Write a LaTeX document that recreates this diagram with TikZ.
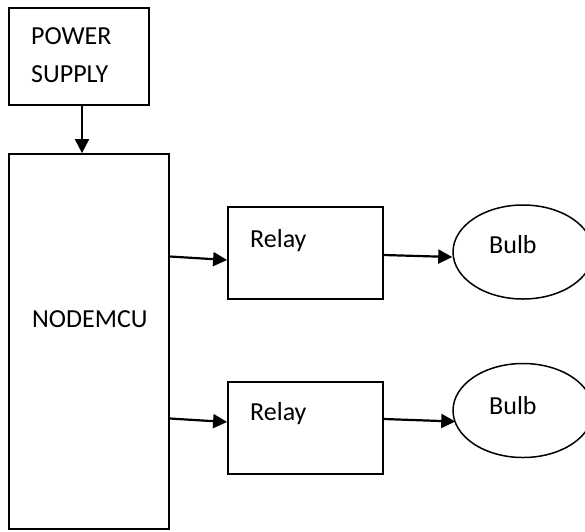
\documentclass[tikz,border=0pt]{standalone}
\usepackage{fontspec}
\setmainfont{Carlito}
\usetikzlibrary{arrows.meta,shapes.geometric}
\begin{document}
\begin{tikzpicture}[x=1pt,y=-1pt,
  blk/.style={draw,line width=1.8pt,inner sep=0pt},
  bulbshape/.style={draw,ellipse,line width=1.5pt,inner sep=0pt,minimum width=140pt,minimum height=94pt},
  lbl/.style={anchor=base west,inner sep=0pt,font=\fontsize{26}{31}\selectfont},
  conn/.style={line width=2.2pt,-{Triangle[length=14pt,width=14pt]}}]
\useasboundingbox (0,0) rectangle (585,531);
\node[blk,minimum width=140pt,minimum height=97pt] (power) at (79,56.5) {};
\node[blk,minimum width=160pt,minimum height=375pt] (nodemcu) at (89,341.5) {};
\node[blk,minimum width=155pt,minimum height=92pt] (relay1) at (305.5,253) {};
\node[blk,minimum width=155pt,minimum height=92pt] (relay2) at (305.5,428) {};
\node[bulbshape] (bulb1) at (523,252) {};
\node[bulbshape] (bulb2) at (523,410.5) {};
\node[lbl] (t1) at (31,44) {POWER};
\node[lbl] (t2) at (31,82) {SUPPLY};
\node[lbl] (t3) at (32,327) {NODEMCU};
\node[lbl] (t4) at (250,247) {Relay};
\node[lbl] (t5) at (250,420) {Relay};
\node[lbl] (t6) at (489,253) {Bulb};
\node[lbl] (t7) at (489,414) {Bulb};
\draw[conn] ([xshift=3pt]power.south) -- ([xshift=-7pt]nodemcu.north);
\draw[conn] ([yshift=85pt]nodemcu.east) -- ([yshift=-7pt]relay1.west);
\draw[conn] ([yshift=-77pt]nodemcu.east) -- ([yshift=6pt]relay2.west);
\draw[conn] ([yshift=-2pt]relay1.east) -- ([yshift=-5pt]bulb1.west);
\draw[conn] ([yshift=9pt]relay2.east) -- ([yshift=-11pt,xshift=3pt]bulb2.west);
\end{tikzpicture}
\end{document}
